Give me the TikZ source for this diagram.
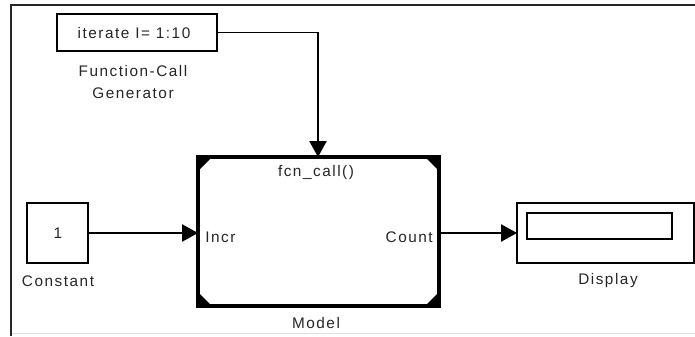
\documentclass[tikz,border=0pt]{standalone}
\usepackage{fontspec}
\setmainfont{Liberation Sans}[LetterSpace=10]
\usetikzlibrary{arrows.meta}
\begin{document}
\begin{tikzpicture}[x=0.75pt,y=-0.75pt,
  blk/.style={draw=black,line width=1pt,fill=white,inner sep=0pt,outer sep=0pt},
  lbl/.style={font=\fontsize{11.5}{13}\selectfont,inner sep=0pt,text=black!85},
  sig/.style={line width=1pt,-{Triangle[length=12pt,width=13pt]}}]
\useasboundingbox (0,0) rectangle (695,336);
% frame
\fill[black!85] (10,4) rectangle (12.2,336);
\fill[black!85] (10,4) rectangle (695,6.2);
\fill[black!12] (12.2,332.5) rectangle (695,333.5);
% generator
\node[blk,minimum width=120pt,minimum height=27.75pt] (gen) at (137,32.5) {};
\node[lbl] (gentxt) at (134,33) {iterate I= 1:10};
\node[lbl] (genlbl1) at (133,71) {Function-Call};
\node[lbl] (genlbl2) at (133,93) {Generator};
% model
\node[draw=black,line width=2.4pt,fill=white,inner sep=0pt,outer sep=0pt,
      minimum width=180.75pt,minimum height=111.75pt] (model) at (318.5,231.5) {};
\fill (model.north west) -- ++(14,0) -- ++(-14,14) -- cycle;
\fill (model.north east) -- ++(-14,0) -- ++(14,14) -- cycle;
\fill (model.south west) -- ++(14,0) -- ++(-14,-14) -- cycle;
\fill (model.south east) -- ++(-14,0) -- ++(14,-14) -- cycle;
\node[lbl] (fcn) at (316,173) {fcn\_call()};
\node[lbl,anchor=west] (incr) at (205,237) {Incr};
\node[lbl,anchor=east] (count) at (433,237) {Count};
\node[lbl] (mlbl) at (316,323) {Model};
% constant
\node[blk,minimum width=45.75pt,minimum height=45pt] (const) at (57.5,233) {};
\node[lbl] (one) at (58,233.5) {1};
\node[lbl] (clbl) at (58,281) {Constant};
% display
\node[blk,minimum width=132.75pt,minimum height=45pt] (disp) at (605.5,233) {};
\node[blk,minimum width=108.75pt,minimum height=19.5pt] (dwin) at (599.5,226) {};
\node[lbl] (dlbl) at (608,281) {Display};
% signals
\coordinate (mtop) at (318,157);
\draw[sig] (gen.east) -| (mtop);
\draw[sig] (const.east) -- (const.east -| model.west);
\draw[sig] (model.east |- disp.west) -- (disp.west);
\end{tikzpicture}
\end{document}
